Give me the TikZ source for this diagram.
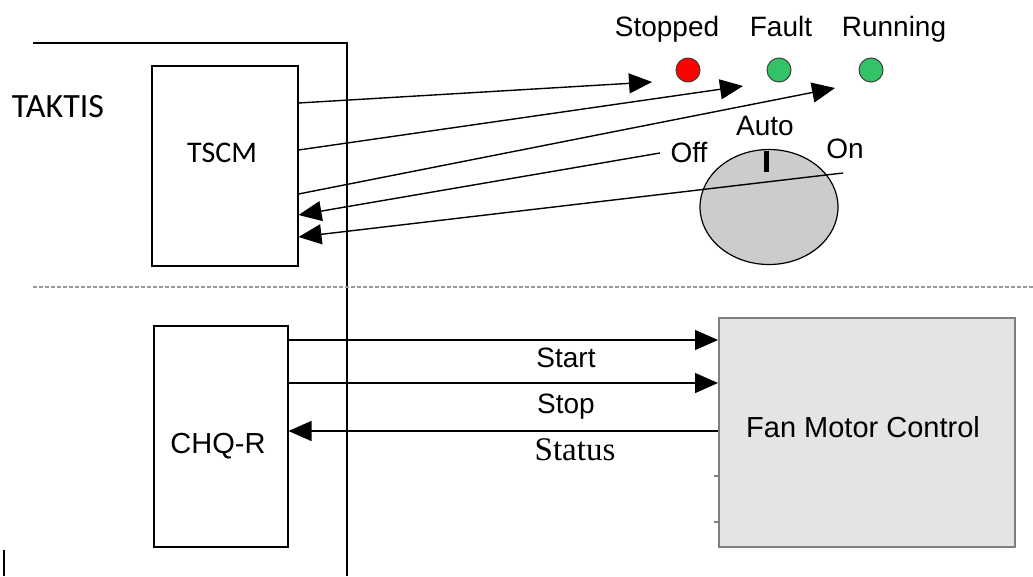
\documentclass[tikz,border=0pt]{standalone}
\usepackage{fontspec}
\setmainfont{Liberation Sans}
\newfontfamily\calfont{Carlito}
\newfontfamily\timesfont{Liberation Serif}
\usetikzlibrary{arrows.meta,shapes.geometric}
\definecolor{ledred}{HTML}{FF0000}
\definecolor{ledgreen}{HTML}{33C366}
\definecolor{fmcfill}{HTML}{E4E4E4}
\definecolor{fmcdraw}{HTML}{7F7F7F}
\definecolor{knobfill}{HTML}{CCCCCC}
\begin{document}
\begin{tikzpicture}[x=1pt,y=-1pt,
  box/.style={draw, line width=1.5pt, inner sep=0pt, anchor=north west},
  arr/.style={line width=1.4pt, -{Triangle[length=23pt,width=20pt]}},
  lbl/.style={font=\fontsize{28}{30}\selectfont, anchor=base, inner sep=0pt},
  led/.style={circle, draw=black!75, line width=1pt, minimum size=24pt, inner sep=0pt},
  frame/.style={line width=2pt}]
\useasboundingbox (0,0) rectangle (1033,576);

% outer border of TAKTIS area
\coordinate (fr1) at (33,43);
\coordinate (fr2) at (347,43);
\coordinate (fr3) at (347,576);
\draw[frame] (fr1) -- (fr2) -- (fr3);
\coordinate (mk1) at (4,550);
\coordinate (mk2) at (4,576);
\draw[line width=1.5pt] (mk1) -- (mk2);

% dotted separator
\coordinate (sep1) at (33,287);
\coordinate (sep2) at (1033,287);
\draw[gray!80, line width=1.3pt, dash pattern=on 4pt off 2pt] (sep1) -- (sep2);

% labels and boxes
\node[font=\calfont\fontsize{34}{36}\selectfont, anchor=base, inner sep=0pt] (taktis) at (58,117) {TAKTIS};
\node[box, minimum width=146pt, minimum height=200pt] (tscm) at (151,65) {};
\node[font=\calfont\fontsize{30}{32}\selectfont, anchor=base, inner sep=0pt] (tscmlbl) at (222,162) {TSCM};

\node[box, minimum width=134pt, minimum height=221pt] (chq) at (153,325) {};
\node[lbl, font=\fontsize{29}{31}\selectfont] (chqlbl) at (218,453) {CHQ-R};

\node[box, draw=fmcdraw, fill=fmcfill, line width=2pt, minimum width=296pt, minimum height=229pt] (fmc) at (718,317) {};
\node[lbl, font=\fontsize{29}{31}\selectfont] (fmclbl) at (863,437) {Fan Motor Control};
\coordinate (tk1a) at (714,476); \coordinate (tk1b) at (fmc.west |- 0,476);
\coordinate (tk2a) at (714,522); \coordinate (tk2b) at (fmc.west |- 0,522);
\draw[fmcdraw, line width=1.2pt] (tk1a) -- (tk1b);
\draw[fmcdraw, line width=1.2pt] (tk2a) -- (tk2b);

% LEDs
\node[led, fill=ledred] (stopped) at (688,70) {};
\node[led, fill=ledgreen] (fault) at (779,70) {};
\node[led, fill=ledgreen] (running) at (871,70) {};
\node[lbl] (stoppedlbl) at (667,36) {Stopped};
\node[lbl] (faultlbl) at (781,36) {Fault};
\node[lbl] (runninglbl) at (894,36) {Running};

% knob
\node[ellipse, draw, line width=1.2pt, fill=knobfill, minimum width=138pt, minimum height=115pt, inner sep=0pt] (knob) at (769,207) {};
\coordinate (ptr1) at (766,151);
\coordinate (ptr2) at (766,172);
\draw[line width=5pt] (ptr1) -- (ptr2);
\node[lbl] (autolbl) at (765,135) {Auto};
\node[lbl] (offlbl) at (689,162) {Off};
\node[lbl] (onlbl) at (845,158) {On};

% TSCM signals
\coordinate (s1) at (tscm.east |- 0,103);
\coordinate (s2) at (tscm.east |- 0,150);
\coordinate (s3) at (tscm.east |- 0,194);
\coordinate (s4) at (tscm.east |- 0,215);
\coordinate (s5) at (tscm.east |- 0,237);
\coordinate (e1) at (652,82);
\coordinate (e2) at (743,86);
\coordinate (e3) at (835,88);
\coordinate (e4) at (660,153);
\coordinate (e5) at (843,173);
\draw[arr] (s1) -- (e1);
\draw[arr] (s2) -- (e2);
\draw[arr] (s3) -- (e3);
\draw[arr] (e4) -- (s4);
\draw[arr] (e5) -- (s5);

% CHQ-R signals
\draw[arr] (chq.east |- 0,340) -- (fmc.west |- 0,340);
\draw[arr] (chq.east |- 0,383) -- (fmc.west |- 0,383);
\draw[arr] (fmc.west |- 0,431) -- (chq.east |- 0,431);
\node[lbl] (startlbl) at (566,367) {Start};
\node[lbl] (stoplbl) at (566,413) {Stop};
\node[lbl, font=\timesfont\fontsize{33}{35}\selectfont] (statuslbl) at (575,460) {Status};
\end{tikzpicture}
\end{document}
